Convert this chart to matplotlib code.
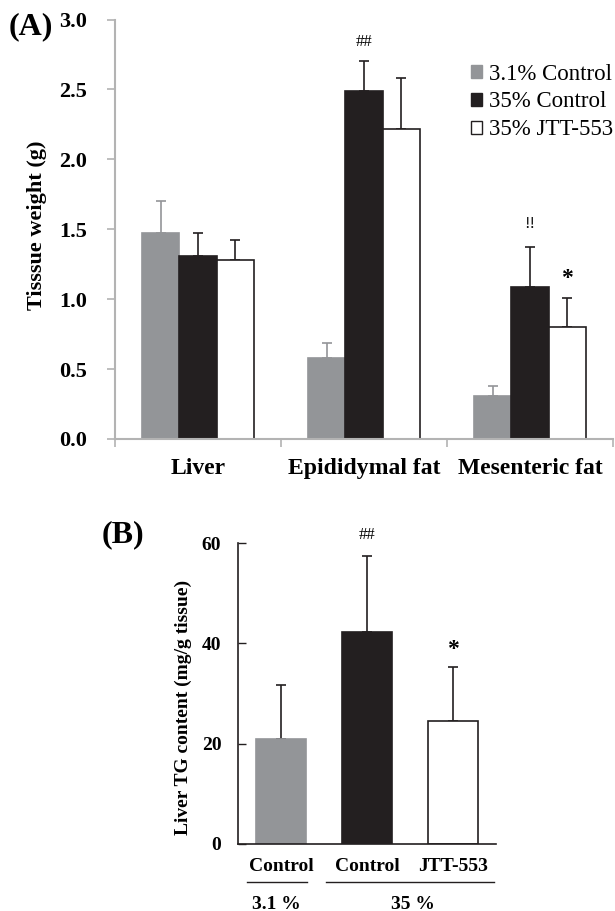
import matplotlib
matplotlib.use("Agg")
import matplotlib.pyplot as plt
import numpy as np
from matplotlib.patches import Patch
import matplotlib.transforms as mtransforms

plt.rcParams['font.family'] = ['Liberation Serif', 'DejaVu Serif']

# ---- Panel A data ----
tissues = ["Liver", "Epididymal fat", "Mesenteric fat"]
groups = ["3.1% Control", "35% Control", "35% JTT-553"]
ctrl31 = [1.47, 0.58, 0.31]
ctrl31_err = [0.23, 0.11, 0.07]
ctrl35 = [1.31, 2.49, 1.09]
ctrl35_err = [0.16, 0.21, 0.28]
jtt35 = [1.28, 2.22, 0.80]
jtt35_err = [0.14, 0.36, 0.21]
yticksA = [0.0, 0.5, 1.0, 1.5, 2.0, 2.5, 3.0]

# ---- Panel B data ----
b_labels = ["Control", "Control", "JTT-553"]
b_vals = [21.0, 42.2, 24.6]
b_err = [10.6, 15.2, 10.7]
yticksB = [0, 20, 40, 60]

GRAY = "#939598"
BLACK = "#231f20"
WHITE = "#ffffff"
AXGRAY = "#b3b3b3"

fig = plt.figure(figsize=(6.15, 9.11), dpi=100)

# ================= Panel A =================
axA = fig.add_axes([115/615, 1-439/911, 498/615, 419.5/911])
x = np.arange(len(tissues))
w = 0.223
series = [(ctrl31, ctrl31_err, GRAY, GRAY, GRAY),
          (ctrl35, ctrl35_err, BLACK, BLACK, BLACK),
          (jtt35, jtt35_err, WHITE, BLACK, BLACK)]
for i, (vals, errs, fc, ec, errc) in enumerate(series):
    xs = x + (i - 1) * w
    axA.bar(xs, vals, w, color=fc, edgecolor=ec, linewidth=1.2, zorder=2,
            label=groups[i])
    axA.errorbar(xs, vals, yerr=[np.zeros(len(errs)), errs], fmt='none',
                 ecolor=errc, elinewidth=1.2, capsize=3.5, capthick=1.2, zorder=1)

axA.set_xlim(-0.5, 2.5)
axA.set_ylim(0, 3.0)
axA.set_yticks(yticksA)
axA.set_yticklabels([f"{v:.1f}" for v in yticksA], fontsize=16, fontweight='bold')
axA.set_xticks(x)
axA.set_xticklabels(tissues, fontsize=17, fontweight='bold')
axA.set_xticks([-0.5, 0.5, 1.5, 2.5], minor=True)
axA.tick_params(axis='x', which='major', length=0, pad=14)
axA.tick_params(axis='x', which='minor', length=6, width=1.2, color=AXGRAY, direction='out')
axA.tick_params(axis='y', length=6, width=1.2, color=AXGRAY, direction='out', pad=14)
for s in ['top', 'right']:
    axA.spines[s].set_visible(False)
for s in ['left', 'bottom']:
    axA.spines[s].set_color(AXGRAY)
    axA.spines[s].set_linewidth(1.5)
axA.set_ylabel("Tisssue weight (g)", fontsize=16, fontweight='bold')
axA.yaxis.set_label_coords(-0.137, 0.51)

# annotations A
axA.text(x[1], 2.84, "##", ha='center', va='center', fontsize=12)
axA.text(x[2], 1.54, "!!", ha='center', va='center', fontsize=12)
axA.text(x[2] + w, 1.15, "*", ha='center', va='center', fontsize=17, fontweight='bold')

handles = [Patch(facecolor=GRAY, edgecolor=GRAY),
           Patch(facecolor=BLACK, edgecolor=BLACK),
           Patch(facecolor=WHITE, edgecolor=BLACK, linewidth=1.0)]
axA.legend(handles, groups, loc='upper left', bbox_to_anchor=(0.714, 0.895),
           frameon=False, fontsize=16.5, handlelength=0.5, handleheight=0.5,
           handletextpad=0.3, labelspacing=0.3, borderpad=0, borderaxespad=0)

fig.text(31/615, 1-27/911, "(A)", ha='center', va='center', fontsize=23, fontweight='bold')

# ================= Panel B =================
axB = fig.add_axes([238/615, 1-844/911, 258/615, 301/911])
xb = np.arange(len(b_vals))
wb = 0.57
colorsB = [GRAY, BLACK, WHITE]
edgesB = [GRAY, BLACK, BLACK]
axB.bar(xb, b_vals, wb, color=colorsB, edgecolor=edgesB, linewidth=1.2, zorder=2)
axB.errorbar(xb, b_vals, yerr=[np.zeros(3), b_err], fmt='none', ecolor=BLACK,
             elinewidth=1.2, capsize=3.5, capthick=1.2, zorder=1)
axB.set_xlim(-0.5, 2.5)
axB.set_ylim(0, 60)
axB.set_yticks(yticksB)
axB.set_yticklabels([str(v) for v in yticksB], fontsize=14, fontweight='bold')
axB.tick_params(axis='y', direction='in', length=6, width=1.0, color=BLACK, pad=12)
axB.set_xticks(xb)
axB.set_xticklabels(b_labels, fontsize=14, fontweight='bold')
axB.tick_params(axis='x', length=0, pad=10)
for s in ['top', 'right']:
    axB.spines[s].set_visible(False)
for s in ['left', 'bottom']:
    axB.spines[s].set_color(BLACK)
    axB.spines[s].set_linewidth(1.2)
axB.set_ylabel("Liver TG content (mg/g tissue)", fontsize=14, fontweight='bold')
axB.yaxis.set_label_coords(-0.178, 0.455)

axB.text(xb[1], 61.6, "##", ha='center', va='center', fontsize=12)
axB.text(xb[2], 38.8, "*", ha='center', va='center', fontsize=17, fontweight='bold')

trans = mtransforms.blended_transform_factory(axB.transData, axB.transAxes)
axB.plot([-0.40, 0.30], [-0.126, -0.126], color=BLACK, lw=1.0, transform=trans, clip_on=False)
axB.plot([0.52, 2.48], [-0.126, -0.126], color=BLACK, lw=1.0, transform=trans, clip_on=False)
axB.text(-0.05, -0.2, "3.1 %", transform=trans, ha='center', va='center',
         fontsize=14, fontweight='bold')
axB.text(1.53, -0.2, "35 %", transform=trans, ha='center', va='center',
         fontsize=14, fontweight='bold')

fig.text(123/615, 1-535/911, "(B)", ha='center', va='center', fontsize=23, fontweight='bold')

fig.savefig("out.png", dpi=100)
